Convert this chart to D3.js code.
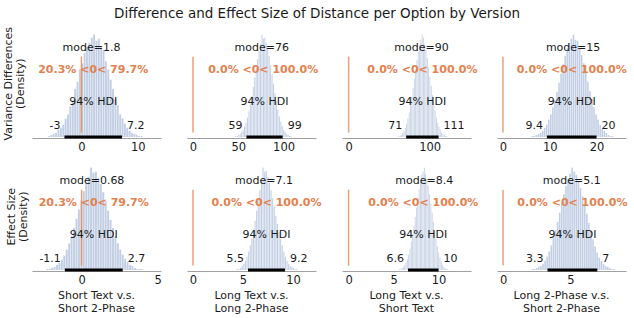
<!DOCTYPE html>
<html>
<head>
<meta charset="utf-8">
<script src="https://cdn.jsdelivr.net/npm/d3@7"></script>
<style>
body { margin: 0; background: #fff; }
text { font-family: "DejaVu Sans", sans-serif; fill: #1a1a1a; }
</style>
</head>
<body>
<div id="chart"></div>
<script>
const title = "Difference and Effect Size of Distance per Option by Version";
const comparisons = [
    ["Short Text v.s.", "Short 2-Phase"],
    ["Long Text v.s.", "Long 2-Phase"],
    ["Long Text v.s.", "Short Text"],
    ["Long 2-Phase v.s.", "Short 2-Phase"]
];
const measures = [["Variance Differences", "(Density)"], ["Effect Size", "(Density)"]];

// panel order: row 1 (variance differences) then row 2 (effect size)
const modes = [1.8, 76, 90, 15, 0.68, 7.1, 8.4, 5.1];
const means = [2.1, 77.5, 91, 14.7, 0.8, 7.35, 8.3, 5.15];
const refShares = [
    "20.3% <0< 79.7%", "0.0% <0< 100.0%", "0.0% <0< 100.0%", "0.0% <0< 100.0%",
    "20.3% <0< 79.7%", "0.0% <0< 100.0%", "0.0% <0< 100.0%", "0.0% <0< 100.0%"
];
const hdiLow = [-3, 59, 71, 9.4, -1.1, 5.5, 6.6, 3.3];
const hdiHigh = [7.2, 99, 111, 20, 2.7, 9.2, 10, 7];
const xDomains = [[-8.75, 14.1], [-6.6, 135.8], [-8.2, 151], [-1.27, 26.3],
                  [-3.26, 5.22], [-0.6, 12.3], [-0.73, 13.6], [-0.45, 9.13]];
const xTicks = [[0, 10], [0, 50, 100], [0, 100], [0, 10, 20],
                [0, 5], [0, 5, 10], [0, 5, 10], [0, 5]];

// histogram bins (relative heights)
const binStart = [-5.9, 46.8, 59.8, 6.1, -2.32, 4.23, 5.47, 2.13];
const binWidth = [0.42, 1.6, 1.6, 0.44, 0.16, 0.16, 0.145, 0.155];
const histVarShortTS = [1,2,3,4,7,9,12,18,22,30,36,47,54,66,72,82,88,92,97,100,94,96,88,85,74,66,56,47,37,31,22,18,13,9,6,4,3,2,1,1];
const histVarLongTL = [1,1,2,3,5,7,10,14,19,25,32,40,49,58,67,76,84,91,100,96,97,92,86,79,70,61,52,43,35,27,20,15,11,7,5,3,2,1,1,0];
const histVarLongTS = [0,1,1,2,4,6,9,13,18,24,31,39,48,57,66,75,83,90,95,100,97,91,85,77,68,59,50,41,33,26,19,14,10,7,4,3,2,1,1,0];
const histVarLong2S = [1,1,2,3,4,6,9,12,17,22,29,36,44,53,62,71,79,87,92,96,100,95,94,87,80,72,63,54,45,37,29,22,17,12,8,6,4,2,1,1];
const histEffShortTS = [1,1,2,3,5,7,10,14,20,26,33,41,50,59,68,77,85,91,100,95,96,90,84,76,67,58,49,41,33,26,20,15,11,8,5,4,2,1,1,1];
const histEffLongTL = [0,1,1,2,4,6,9,13,18,24,31,39,48,58,68,78,88,100,96,97,91,85,78,70,62,53,45,37,30,24,18,13,9,6,4,3,2,1,1,0];
const histEffLongTS = [0,1,1,2,3,5,8,11,15,21,28,35,43,52,61,70,79,87,93,96,100,94,89,82,74,65,56,47,38,30,23,17,12,8,5,3,2,1,1,0];
const histEffLong2S = [1,1,2,3,4,6,9,13,18,24,31,39,47,56,65,74,82,89,94,100,96,93,87,80,72,64,55,46,38,30,23,17,12,9,6,4,3,2,1,1];
const hists = [histVarShortTS, histVarLongTL, histVarLongTS, histVarLong2S,
               histEffShortTS, histEffLongTL, histEffLongTS, histEffLong2S];

const svgWidth = 634;
const svgHeight = 318;
const colLeft = [32, 187, 342, 497];
const rowBottom = [138, 271];
const axW = 129;
const axH = 108.5;
const orange = "#e3814f";

const svg = d3.select("#chart")
    .append("svg")
    .attr("width", svgWidth)
    .attr("height", svgHeight);

svg.append("text")
    .attr("x", svgWidth / 2)
    .attr("y", 18)
    .attr("text-anchor", "middle")
    .style("font-size", "13.5px")
    .text(title);

hists.forEach(function(counts, k){
    const r = Math.floor(k / 4);
    const c = k % 4;
    const g = svg.append("g")
        .attr("transform", `translate(${colLeft[c]}, ${rowBottom[r] - axH})`);

    const x = d3.scaleLinear().domain(xDomains[k]).range([0, axW]);
    const top = d3.max(counts) * 1.05;
    const y = d3.scaleLinear().domain([0, top]).range([axH - 1, 0]);

    g.append("g")
        .selectAll("rect")
        .data(counts)
        .join("rect")
        .attr("x", (d, i) => x(binStart[k] + i * binWidth[k]))
        .attr("width", x(binWidth[k]) - x(0) - 0.5)
        .attr("y", d => y(d))
        .attr("height", d => y(0) - y(d))
        .attr("fill", "#4c72b0")
        .attr("fill-opacity", 0.35);

    const axis = g.append("g")
        .attr("transform", `translate(0, ${axH})`)
        .call(d3.axisBottom(x).tickValues(xTicks[k]).tickSize(0).tickSizeOuter(0).tickPadding(5));
    axis.select(".domain").attr("stroke", "#a0a0a0").attr("stroke-width", 1);
    axis.selectAll("text").style("font-size", "11.5px").attr("fill", "#1a1a1a");

    // reference line at 0
    g.append("line")
        .attr("x1", x(0)).attr("x2", x(0))
        .attr("y1", axH * 0.95).attr("y2", axH * 0.25)
        .attr("stroke", orange)
        .attr("stroke-opacity", 0.75)
        .attr("stroke-width", 1.5);

    // HDI bar
    g.append("line")
        .attr("x1", x(hdiLow[k])).attr("x2", x(hdiHigh[k]))
        .attr("y1", y(0)).attr("y2", y(0))
        .attr("stroke", "#000")
        .attr("stroke-width", 3);

    g.append("text")
        .attr("x", x(modes[k]))
        .attr("y", y(top * 0.8))
        .attr("text-anchor", "middle")
        .style("font-size", "11px")
        .text("mode=" + modes[k]);

    g.append("text")
        .attr("x", x(means[k]))
        .attr("y", y(top * 0.6))
        .attr("text-anchor", "middle")
        .style("font-size", "11px")
        .style("font-weight", "bold")
        .style("fill", orange)
        .text(refShares[k]);

    g.append("text")
        .attr("x", x((hdiLow[k] + hdiHigh[k]) / 2))
        .attr("y", y(top * 0.3))
        .attr("text-anchor", "middle")
        .style("font-size", "11px")
        .text("94% HDI");

    g.append("text")
        .attr("x", x(hdiLow[k]) - 4)
        .attr("y", y(top * 0.07))
        .attr("text-anchor", "end")
        .style("font-size", "11px")
        .text(String(hdiLow[k]));

    g.append("text")
        .attr("x", x(hdiHigh[k]) + 5)
        .attr("y", y(top * 0.07))
        .attr("text-anchor", "start")
        .style("font-size", "11px")
        .text(String(hdiHigh[k]));
});

// row labels
const rowLabelX = [[8, 20], [11, 23]];
measures.forEach(function(lines, r){
    const cy = rowBottom[r] - axH / 2;
    lines.forEach(function(line, j){
        svg.append("text")
            .attr("transform", `translate(${rowLabelX[r][j] + 4}, ${cy}) rotate(-90)`)
            .attr("text-anchor", "middle")
            .style("font-size", "11px")
            .text(line);
    });
});

// column labels
comparisons.forEach(function(lines, c){
    lines.forEach(function(line, j){
        svg.append("text")
            .attr("x", colLeft[c] + axW / 2)
            .attr("y", 299 + j * 12.5)
            .attr("text-anchor", "middle")
            .style("font-size", "11px")
            .text(line);
    });
});
</script>
</body>
</html>
